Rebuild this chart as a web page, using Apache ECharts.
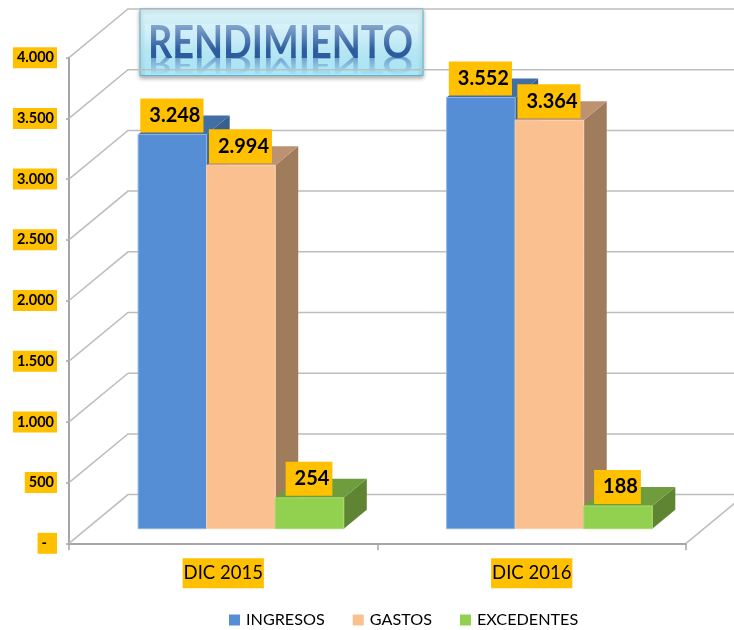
<!DOCTYPE html>
<html>
<head>
<meta charset="utf-8">
<style>
  html, body { margin: 0; padding: 0; background: #fff; }
  #chart { width: 734px; height: 630px; }
</style>
<script src="https://cdn.jsdelivr.net/npm/echarts@6/dist/echarts.min.js"></script>
</head>
<body>
<div id="chart"></div>
<script>
const categories = ["DIC 2015", "DIC 2016"];
const ingresos = [3248, 3552];
const gastos = [2994, 3364];
const excedentes = [254, 188];
const wallTicks = [0, 500, 1000, 1500, 2000, 2500, 3000, 3500, 4000];

const FONT = "Lato";
const LABEL_BG = "#FFC000";
// 3D look: how far the back wall, the bars and the bar depth are shifted, in px
const WALL = { dx: 59, dy: -48.7 };
const PLANE = { dx: 17.7, dy: -14.6 };
const DEPTH = { dx: 23, dy: -19 };

function fmt(v) {
  return String(v).replace(/\B(?=(\d{3})+$)/g, ".");
}

function shade(points, fill) {
  return { type: "polygon", shape: { points }, style: { fill } };
}

function vGradient(from, to) {
  return {
    type: "linear", x: 0, y: 0, x2: 0, y2: 1,
    colorStops: [
      { offset: 0, color: from },
      { offset: 1, color: to },
    ],
  };
}

function bar3d(slot, colors) {
  return function (params, api) {
    const base = api.coord([api.value(0), 0]);
    const top = api.coord([api.value(0), api.value(1)]);
    const w = (api.size([1, 0])[0] * 2) / 9;
    const x0 = base[0] + PLANE.dx + (slot - 1.5) * w;
    const x1 = x0 + w;
    const y0 = base[1] + PLANE.dy;
    const y1 = top[1] + PLANE.dy;
    const d = DEPTH;
    return {
      type: "group",
      children: [
        shade([[x1, y0], [x1 + d.dx, y0 + d.dy], [x1 + d.dx, y1 + d.dy], [x1, y1]], colors.side),
        shade([[x0, y1], [x1, y1], [x1 + d.dx, y1 + d.dy], [x0 + d.dx, y1 + d.dy]], colors.top),
        {
          type: "rect",
          shape: { x: x0, y: y1, width: w, height: y0 - y1 },
          style: { fill: colors.front, stroke: colors.edge, lineWidth: 1 },
        },
        {
          type: "text",
          z2: 100,
          style: {
            x: (x0 + x1) / 2 - 0.5,
            y: y1 - 2,
            text: fmt(api.value(1)),
            align: "center",
            verticalAlign: "bottom",
            fontFamily: FONT,
            fontWeight: "bold",
            fontSize: 20,
            lineHeight: 22,
            fill: "#000",
            backgroundColor: LABEL_BG,
            padding: [6, 3, 6, 9],
          },
        },
      ],
    };
  };
}

function barSeries(name, values, slot, colors) {
  return {
    name,
    type: "custom",
    renderItem: bar3d(slot, colors),
    encode: { x: 0, y: 1 },
    itemStyle: { color: colors.front },
    data: values.map((v, i) => [i, v]),
  };
}

const wallSeries = {
  type: "custom",
  silent: true,
  z: 1,
  encode: { y: 0 },
  data: wallTicks.map((v) => [v]),
  renderItem(params, api) {
    const g = params.coordSys;
    const y = api.coord([0, api.value(0)])[1];
    const left = g.x;
    const right = g.x + g.width;
    const line = { stroke: "#BDBDBD", lineWidth: 1.5, fill: null };
    const children = [
      {
        type: "polyline",
        shape: { points: [[left, y], [left + WALL.dx, y + WALL.dy], [right + WALL.dx, y + WALL.dy]] },
        style: line,
      },
    ];
    if (api.value(0) === 0) {
      children.push({
        type: "line",
        shape: { x1: right, y1: y, x2: right + WALL.dx, y2: y + WALL.dy },
        style: line,
      });
    }
    return { type: "group", children };
  },
};

const TITLE = "RENDIMIENTO";
const TITLE_SCALE_X = 0.84;

function titleText(y, scaleY, fill, opacity) {
  return {
    type: "text",
    x: 280.5,
    y,
    scaleX: TITLE_SCALE_X,
    scaleY,
    style: {
      text: TITLE,
      x: 0,
      y: 0,
      align: "center",
      verticalAlign: "bottom",
      fontFamily: FONT,
      fontWeight: "bold",
      fontSize: 45,
      fill,
      opacity,
    },
  };
}

// text fill can't take a gradient, so the fades are see-through rects laid over the text
const titleBox = {
  type: "group",
  silent: true,
  z: 50,
  children: [
    {
      type: "rect",
      shape: { x: 140, y: 8.5, width: 283, height: 67 },
      style: {
        fill: vGradient("rgba(224,248,254,0.92)", "rgba(160,230,250,0.88)"),
        stroke: "#5FB3C8",
        lineWidth: 1,
        shadowBlur: 4,
        shadowOffsetY: 2,
        shadowColor: "rgba(0,0,0,0.35)",
      },
    },
    titleText(52, -0.55, "#3C69AA", 0.6),
    {
      type: "rect",
      shape: { x: 145, y: 58, width: 273, height: 17 },
      style: { fill: vGradient("rgba(176,234,250,0.1)", "rgba(168,232,250,0.97)") },
    },
    titleText(66, 1, "#2C5C9E", 1),
    {
      type: "rect",
      shape: { x: 145, y: 24, width: 273, height: 26 },
      style: { fill: vGradient("rgba(225,245,255,0.5)", "rgba(225,245,255,0)") },
    },
  ],
};

const option = {
  animation: false,
  backgroundColor: "#fff",
  textStyle: { fontFamily: FONT },
  grid: { left: 69, right: 48, top: 57.7, bottom: 86.7 },
  legend: {
    data: ["INGRESOS", "GASTOS", "EXCEDENTES"],
    left: 224,
    top: 607,
    icon: "rect",
    itemWidth: 11,
    itemHeight: 11,
    itemGap: 28,
    textStyle: { fontFamily: FONT, fontSize: 16.2, color: "#000", padding: [0, 0, 0, 1] },
  },
  xAxis: {
    type: "category",
    data: categories,
    axisLine: { lineStyle: { color: "#A6A6A6", width: 2 } },
    axisTick: { show: true, length: 7, lineStyle: { color: "#A6A6A6", width: 1.5 } },
    axisLabel: {
      margin: 15,
      color: "#000",
      fontFamily: FONT,
      fontSize: 18.5,
      lineHeight: 24,
      backgroundColor: LABEL_BG,
      padding: [3, 1],
    },
  },
  yAxis: {
    type: "value",
    min: 0,
    max: 4000,
    interval: 500,
    splitLine: { show: false },
    axisLine: { show: true, lineStyle: { color: "#A6A6A6", width: 2 } },
    axisTick: { show: true, length: 3, lineStyle: { color: "#A6A6A6", width: 1.5 } },
    axisLabel: {
      margin: 12,
      color: "#000",
      fontFamily: FONT,
      fontWeight: "bold",
      fontSize: 14.5,
      lineHeight: 17,
      backgroundColor: LABEL_BG,
      padding: [2, 3, 2, 4],
      formatter: (v) => (v === 0 ? "-\u00A0\u00A0" : fmt(v)),
    },
  },
  graphic: [titleBox],
  series: [
    wallSeries,
    barSeries("INGRESOS", ingresos, 0, { front: "#558ED5", top: "#426EA6", side: "#375F90", edge: "#8FB4E3" }),
    barSeries("GASTOS", gastos, 1, { front: "#FAC090", top: "#BC9270", side: "#9F7C5C", edge: "#FBD3B1" }),
    barSeries("EXCEDENTES", excedentes, 2, { front: "#92D050", top: "#6F9C3C", side: "#5F8532", edge: "#A6DA70" }),
  ],
};

const chart = echarts.init(document.getElementById("chart"), null, { renderer: "canvas" });
chart.setOption(option);
</script>
</body>
</html>
